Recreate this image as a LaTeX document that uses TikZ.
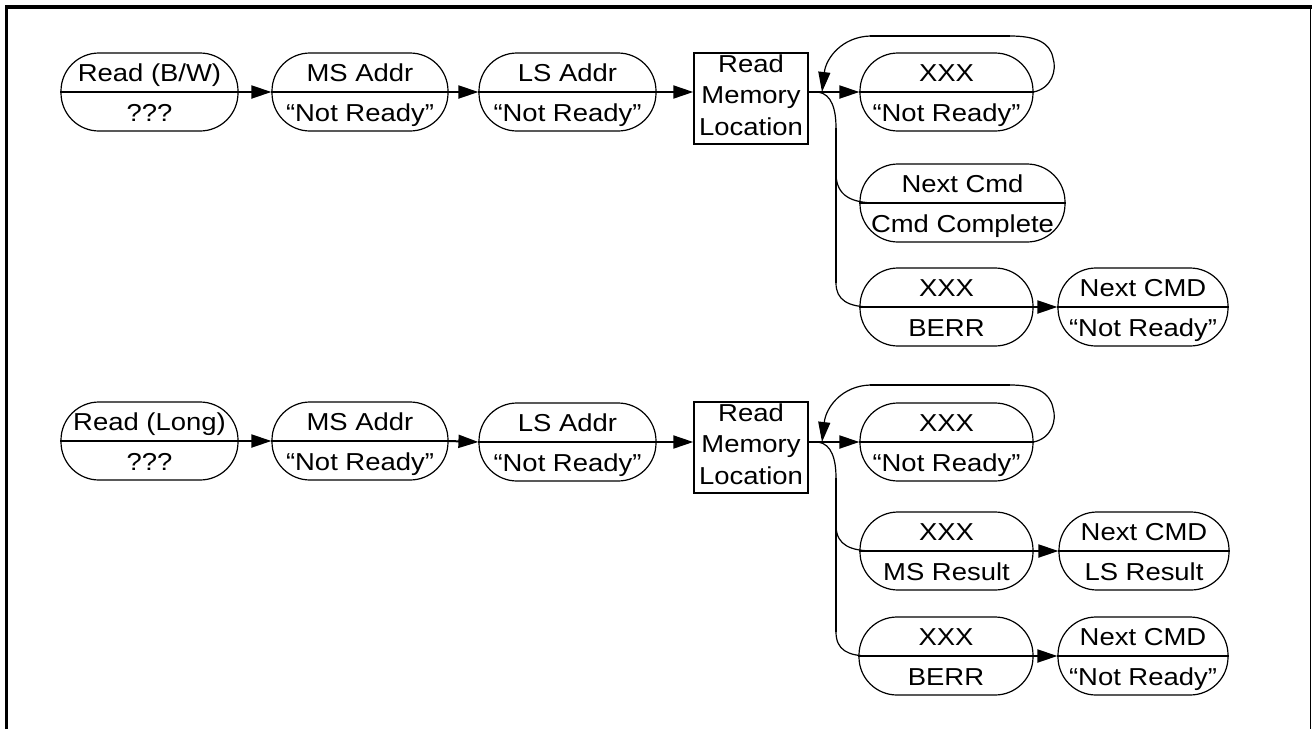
\documentclass[tikz,border=0pt]{standalone}
\usepackage{fontspec}
\usepackage{graphicx}
\setmainfont{Liberation Sans}
\usetikzlibrary{arrows.meta,calc}
\tikzset{
  stad/.style={draw, line width=1.2pt, rounded corners=38pt, minimum height=78pt, inner sep=0pt},
  divline/.style={line width=2pt},
  arr/.style={line width=2pt, -{Triangle[length=20pt,width=13pt]}},
  thinc/.style={line width=1.2pt},
  thickc/.style={line width=2pt},
  lbl/.style={anchor=base, inner sep=0pt, font=\fontsize{24.5}{28}\selectfont},
  membox/.style={draw, line width=1.5pt, minimum width=114pt, minimum height=91pt, inner sep=0pt},
  looparr/.style={line width=1.2pt, -{Triangle[length=20pt,width=12pt]}},
}
\newcommand\wide[1]{\scalebox{1.12}[1]{#1}}
\newcommand\stn[6]{%
  \node[stad, minimum width=#4pt] (#1) at (#2,#3) {};
  \draw[divline] (#1.west) -- (#1.east);
  \node[lbl] (#1t) at ($(#1.center)+(0,-11)$) {\wide{#5}};
  \node[lbl] (#1b) at ($(#1.center)+(0,29)$) {\wide{#6}};
}
\newcommand\membox[2]{% name, centre y
  \node[membox] (#1) at (751,#2) {};
  \begin{scope}
    \clip (#1.north west) rectangle (#1.south east);
    \node[lbl] (#1r) at ($(#1.center)+(0,-26.5)$) {\wide{Read}};
    \node[lbl] (#1m) at ($(#1.center)+(0,4.5)$) {\wide{Memory}};
    \node[lbl] (#1l) at ($(#1.center)+(0,36.5)$) {\wide{Location}};
  \end{scope}
}
\begin{document}
\begin{tikzpicture}[x=1pt,y=-1pt]
\useasboundingbox (0,0) rectangle (1312,729);
% frame
\draw[line width=3.5pt] (6.5,729) -- (6.5,7) -- (1312,7);
\draw[line width=1.5pt] (1310.5,7) -- (1310.5,729);

% ---------- upper flow ----------
\stn{n1}{149.5}{92}{177}{Read (B/W)}{???}
\stn{n2}{360}{92}{176}{MS Addr}{“Not Ready”}
\stn{n3}{567.5}{92}{177}{LS Addr}{“Not Ready”}
\membox{box1}{98.5}
\coordinate (j1) at (822,92);
\stn{a}{946.5}{92}{173}{XXX}{“Not Ready”}
\stn{b}{962.5}{203}{205}{Next Cmd}{Cmd Complete}
\stn{c}{946.5}{307}{173}{XXX}{BERR}
\stn{d}{1143}{307}{170}{Next CMD}{“Not Ready”}

\draw[arr] (n1.east) -- (n2.west);
\draw[arr] (n2.east) -- (n3.west);
\draw[arr] (n3.east) -- (box1.west |- n3.east);
\draw[arr] (box1.east |- j1) -- (a.west);
\draw[looparr] (a.east) .. controls (1052,88) and (1057,70) .. (1053,58)
  .. controls (1050,42) and (1035,36) .. (1010,36) -- (870,36)
  .. controls (842,37) and (826,58) .. (j1);
\draw[thickc] (870,36) -- (1010,36);
\coordinate (v1) at (836,128);
\coordinate (v2) at (836,283);
\draw[thinc] ([xshift=-4pt]j1) .. controls (832,94) and (836,110) .. (v1);
\draw[thickc] (v1) -- (v2);
\draw[thinc] (836,175) .. controls (837,195) and (850,203) .. ([xshift=17pt]b.west);
\draw[thinc] (v2) .. controls (836,300) and (848,307) .. ([xshift=12pt]c.west);
\draw[arr] (c.east) -- (d.west);

% ---------- lower flow ----------
\stn{n4}{149.5}{441}{177}{Read (Long)}{???}
\stn{n5}{360}{441}{176}{MS Addr}{“Not Ready”}
\stn{n6}{567.5}{442}{177}{LS Addr}{“Not Ready”}
\membox{box2}{447.5}
\coordinate (j2) at (822,442);
\stn{e}{946.5}{442}{173}{XXX}{“Not Ready”}
\stn{f}{946.5}{551}{173}{XXX}{MS Result}
\stn{g}{1144}{551}{170}{Next CMD}{LS Result}
\stn{h}{946}{656}{174}{XXX}{BERR}
\stn{i}{1143}{656}{170}{Next CMD}{“Not Ready”}

\draw[arr] (n4.east) -- (n5.west);
\draw[arr] (n5.east) -- (n6.west);
\draw[arr] (n6.east) -- (box2.west |- n6.east);
\draw[arr] (box2.east |- j2) -- (e.west);
\draw[looparr] (e.east) .. controls (1052,438) and (1057,420) .. (1053,408)
  .. controls (1050,392) and (1035,385) .. (1010,385) -- (870,385)
  .. controls (842,386) and (826,407) .. (j2);
\draw[thickc] (870,385) -- (1010,385);
\coordinate (v3) at (836,478);
\coordinate (v4) at (836,632);
\draw[thinc] ([xshift=-4pt]j2) .. controls (832,444) and (836,460) .. (v3);
\draw[thickc] (v3) -- (v4);
\draw[thinc] (836,527) .. controls (837,545) and (850,551) .. ([xshift=15pt]f.west);
\draw[thinc] (v4) .. controls (836,650) and (848,656) .. ([xshift=11pt]h.west);
\draw[arr] (f.east) -- (g.west);
\draw[arr] (h.east) -- (i.west);
\end{tikzpicture}
\end{document}
